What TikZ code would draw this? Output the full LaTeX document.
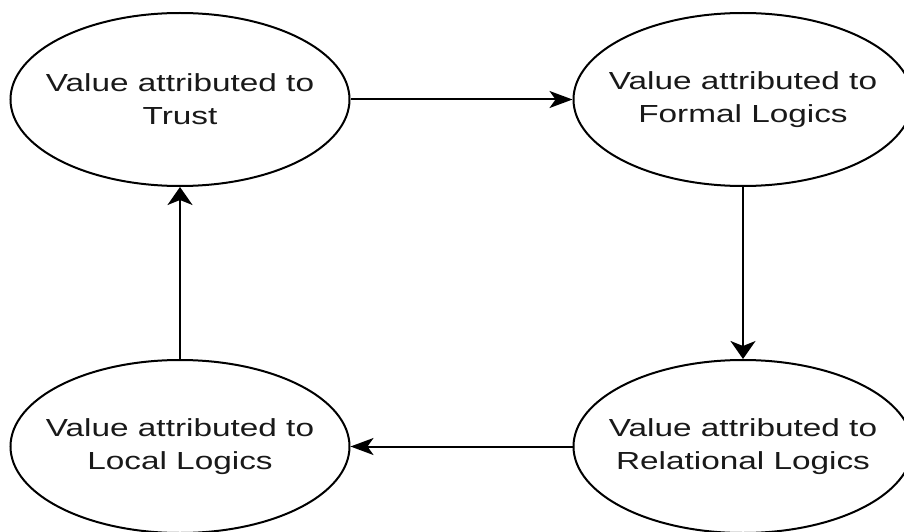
\documentclass[tikz,border=0pt]{standalone}
\usepackage{fontspec}
\usetikzlibrary{shapes.geometric,arrows.meta}
% Arial-width sans, widened to suit the wide ellipses
\newfontfamily\lblfont[FakeStretch=1.35]{Liberation Sans}
\begin{document}
\begin{tikzpicture}[x=1pt,y=-1pt,
  state/.style={ellipse,draw=black,line width=2pt,minimum width=339pt,minimum height=173pt,inner sep=0pt},
  statetext/.style={align=center,text=black!90,inner sep=0pt,font={\lblfont\fontsize{24.7}{33}\selectfont}},
  harrow/.style={line width=2pt,-{Stealth[length=23pt,width=17pt,inset=6pt]}},
  varrow/.style={line width=2pt,-{Stealth[length=18pt,width=25pt,inset=5pt]}}]
  \useasboundingbox (0,0) rectangle (904,532);
  \fill[white] (0,0) rectangle (904,532);

  \node[state,label={[statetext]center:Value attributed to\\Trust}] (trust) at (180,99.5) {};
  \node[state,label={[statetext]center:Value attributed to\\Formal Logics}] (formal) at (743,99.5) {};
  \node[state,label={[statetext]center:Value attributed to\\Relational Logics}] (relational) at (743,446.5) {};
  \node[state,label={[statetext]center:Value attributed to\\Local Logics}] (local) at (180,446.5) {};

  \draw[harrow] (trust) -- (formal);
  \draw[varrow] (formal) -- (relational);
  \draw[harrow] (relational) -- (local);
  \draw[varrow] (local) -- (trust);
\end{tikzpicture}
\end{document}
